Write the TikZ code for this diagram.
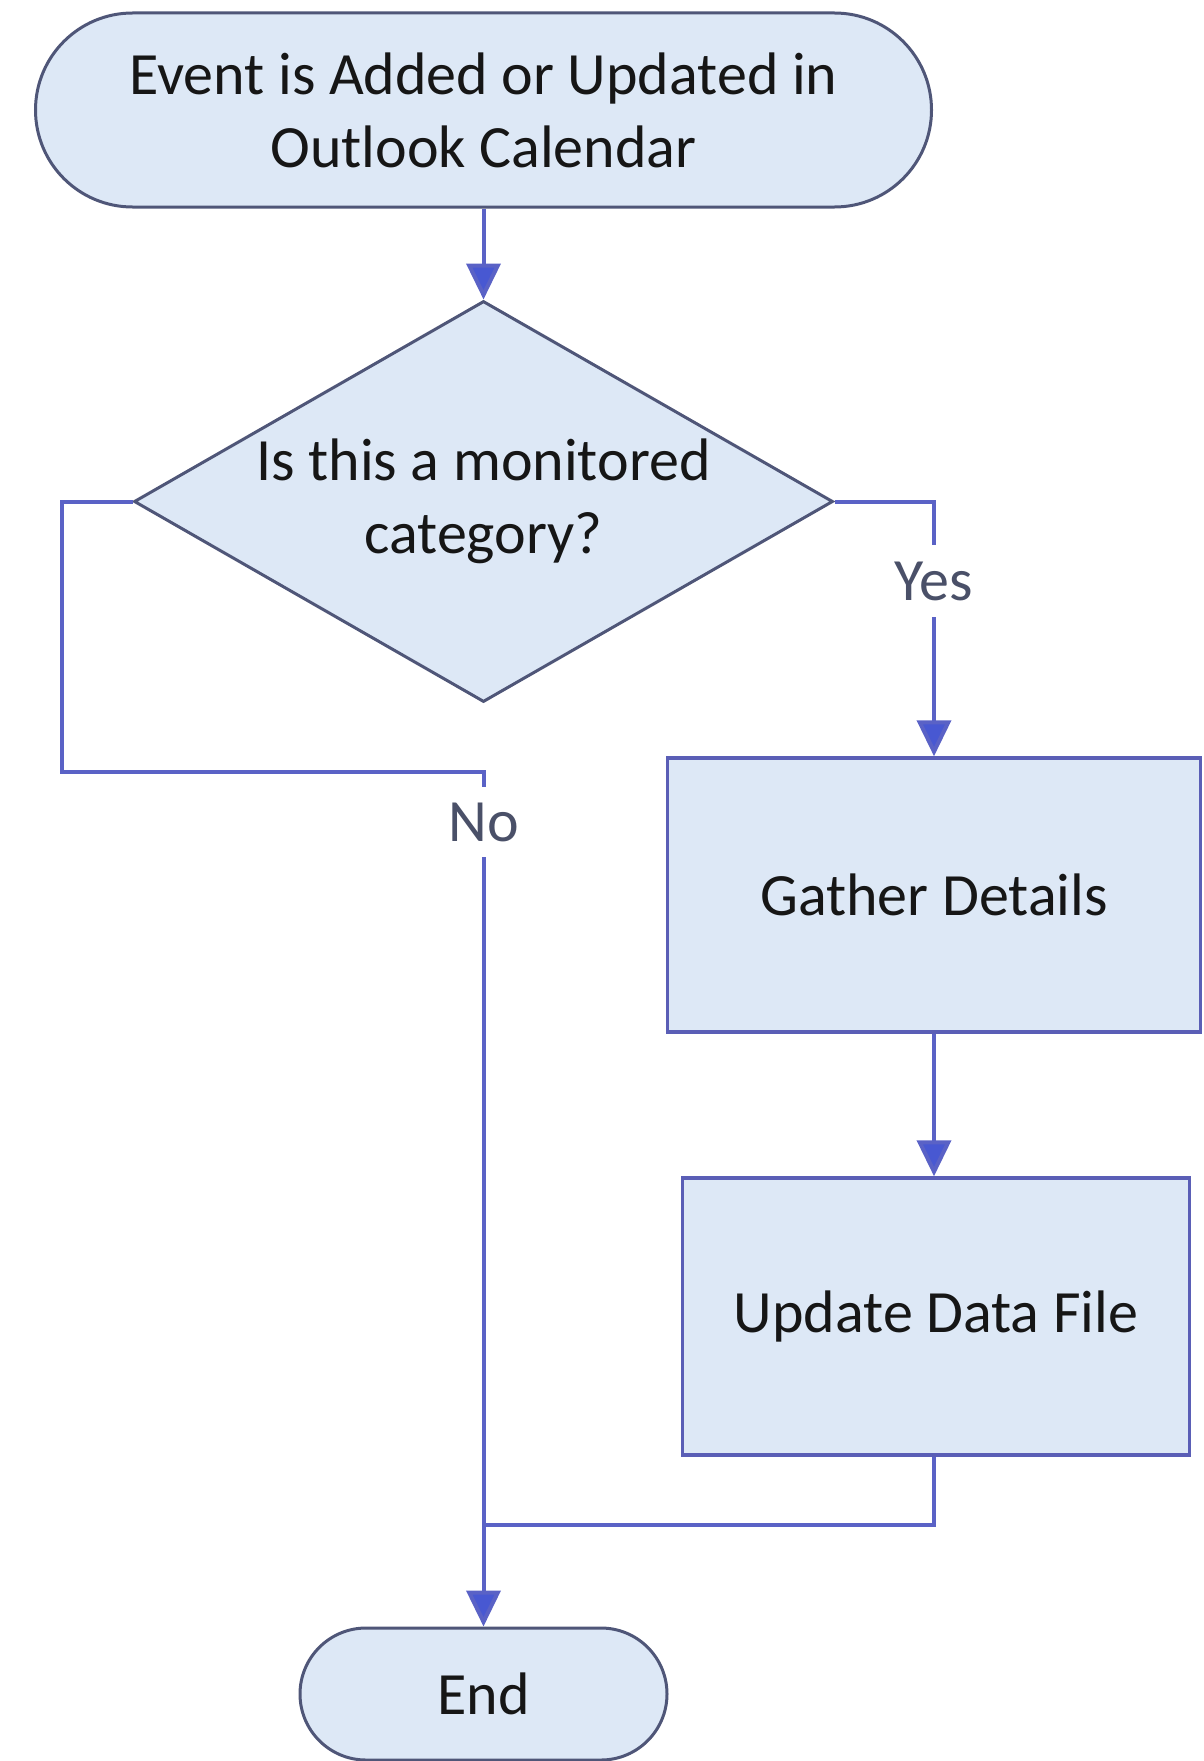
\documentclass[tikz,border=0pt]{standalone}
\usepackage{fontspec}
\setmainfont{Carlito}
\usetikzlibrary{arrows.meta,shapes.geometric}
\definecolor{connc}{HTML}{5A62C6}
\definecolor{tipc}{HTML}{4858D2}
\definecolor{edgegray}{HTML}{4F5678}
\definecolor{edgeblue}{HTML}{5A5EB6}
\definecolor{nodefill}{HTML}{DDE8F6}
\definecolor{txtc}{HTML}{161616}
\definecolor{labc}{HTML}{4A5068}
\begin{document}
\begin{tikzpicture}[x=1pt,y=-1pt,
  font=\fontsize{60}{73}\selectfont,
  termbox/.style={draw=edgegray, line width=3pt, fill=nodefill, inner sep=0pt,
    text=txtc, align=center},
  procbox/.style={draw=edgeblue, line width=3.5pt, fill=nodefill, inner sep=0pt,
    text=txtc, align=center},
  decbox/.style={diamond, draw=edgegray, line width=3pt, fill=nodefill, inner sep=0pt,
    text=txtc, align=center},
  lab/.style={inner sep=0pt, text=labc},
  connline/.style={draw=connc, line width=4pt},
  connarrow/.style={connline, -{Triangle[width=34pt,length=36pt,fill=tipc]}}
]
\useasboundingbox (0,0) rectangle (1203,1761);

\node[termbox, minimum width=896pt, minimum height=194pt, rounded corners=97pt]
  (start) at (483.5,110) {Event is Added or Updated in\\Outlook Calendar};
\node[decbox, minimum width=699pt, minimum height=401pt]
  (dec) at (483.5,501.5) {};
\node[inner sep=0pt, text=txtc, align=center] (dectext) at (483.5,501.5)
  {Is this a monitored\\category?};
\node[procbox, minimum width=533pt, minimum height=274pt]
  (gather) at (934,895) {Gather Details};
\node[procbox, minimum width=507pt, minimum height=277pt]
  (update) at (936,1316.5) {Update Data File};
\node[termbox, minimum width=367pt, minimum height=132pt, rounded corners=66pt]
  (end) at (483.5,1694) {End};

\node[lab, minimum height=72pt] (yes) at (934,581) {Yes};
\node[lab, minimum height=70pt] (no) at (483.5,822) {No};
\coordinate (nl) at (62,772);
\coordinate (mj) at (483.5,1525);

\draw[connarrow] (start.south) -- (dec.north);
\draw[connline] (dec.east) -| (yes.north);
\draw[connarrow] (yes.south) -- (gather.north);
\draw[connarrow] (gather.south) -- (gather.south |- update.north);
\draw[connline] (dec.west) -- (dec.west -| nl) -- (nl) -- (nl -| no.north) -- (no.north);
\draw[connarrow] (no.south) -- (end.north);
\draw[connline] (update.south -| gather.south) |- (mj);
\end{tikzpicture}
\end{document}
